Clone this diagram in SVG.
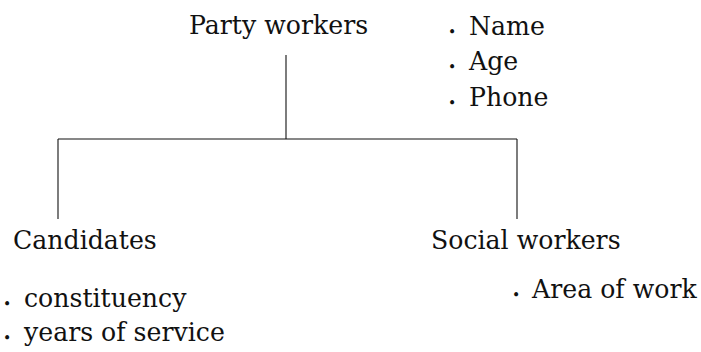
<svg xmlns="http://www.w3.org/2000/svg" width="701" height="352" viewBox="0 0 701 352">
<style>
  text { font-family: "DejaVu Serif", "Liberation Serif", serif; font-size: 25.2px; fill: #111; }
  .b { font-size: 14px; }
  .conn line { stroke: #111; stroke-width: 1.1; fill: none; }
</style>
<rect width="701" height="352" fill="#fff"/>
<g id="connectors" class="conn">
  <line x1="286" y1="55" x2="286" y2="139"/>
  <line x1="58" y1="139" x2="517" y2="139"/>
  <line x1="58" y1="139" x2="58" y2="219"/>
  <line x1="517" y1="139" x2="517" y2="219"/>
</g>
<g id="party-workers">
  <text x="189" y="34">Party workers</text>
</g>
<g id="party-workers-attrs">
  <text x="448" y="35"><tspan class="b" dy="2">•</tspan><tspan x="469" dy="-2">Name</tspan></text>
  <text x="448" y="70"><tspan class="b" dy="2">•</tspan><tspan x="469" dy="-2">Age</tspan></text>
  <text x="448" y="106"><tspan class="b" dy="2">•</tspan><tspan x="469" dy="-2">Phone</tspan></text>
</g>
<g id="candidates">
  <text x="13" y="249">Candidates</text>
</g>
<g id="candidates-attrs">
  <text x="3" y="307"><tspan class="b" dy="2">•</tspan><tspan x="24" dy="-2">constituency</tspan></text>
  <text x="3" y="341"><tspan class="b" dy="2">•</tspan><tspan x="24" dy="-2">years of service</tspan></text>
</g>
<g id="social-workers">
  <text x="431" y="249">Social workers</text>
</g>
<g id="social-workers-attrs">
  <text x="512" y="298"><tspan class="b" dy="2">•</tspan><tspan x="532" dy="-2">Area of work</tspan></text>
</g>
</svg>
